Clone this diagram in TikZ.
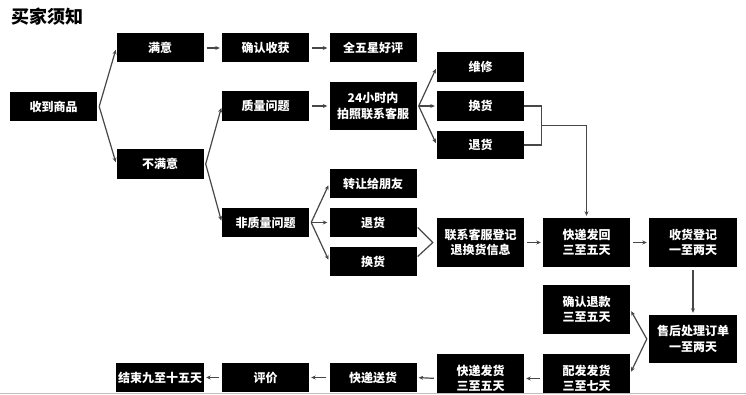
\documentclass[tikz,border=0pt]{standalone}
\usepackage{fontspec}
\newfontfamily\cjk{Noto Sans CJK SC}
\usetikzlibrary{arrows.meta,calc}
\tikzset{
  bx/.style={fill=black, text=white, inner sep=0pt, minimum width=87pt, minimum height=29pt,
    align=center, font=\cjk\bfseries\fontsize{12}{15.5}\selectfont},
  bxt/.style={bx, minimum height=49pt},
  con/.style={draw=black!72, line width=1.2pt},
  arr/.style={con, -{Stealth[length=4.5pt,width=4pt]}},
}
\begin{document}
\begin{tikzpicture}[x=1pt,y=-1pt]
\useasboundingbox (0,0) rectangle (746,395);
\fill[white] (0,0) rectangle (746,395);
\node[anchor=west, font=\cjk\bfseries\fontsize{18}{20}\selectfont] (title) at (8,17) {买家须知};
\begin{scope}
\clip (0,0) rectangle (746,392);
% nodes
\node[bx] (buy) at (53.5,106.5) {收到商品};
\node[bx] (sat) at (160,48) {满意};
\node[bx] (confirm) at (265.5,48) {确认收获};
\node[bx] (five) at (373,48) {全五星好评};
\node[bx, minimum height=30pt] (unsat) at (160,164) {不满意};
\node[bx, minimum height=30pt] (quality) at (265.5,106) {质量问题};
\node[bxt, minimum height=48pt] (h24) at (373,106) {24小时内\\拍照联系客服};
\node[bx, minimum height=30pt] (repair) at (480.5,67) {维修};
\node[bx, minimum height=30pt] (exq) at (480.5,106) {换货};
\node[bx, minimum height=28pt] (retq) at (480.5,145) {退货};
\node[bx] (nonq) at (265.5,222.5) {非质量问题};
\node[bx] (transfer) at (373,183.5) {转让给朋友};
\node[bx] (retn) at (373,222.5) {退货};
\node[bx] (exn) at (373,261.5) {换货};
\node[bxt] (contact) at (480.5,242.5) {联系客服登记\\退换货信息};
\node[bxt] (express) at (586.5,242.5) {快递发回\\三至五天};
\node[bxt, minimum width=88pt] (recv) at (693,242.5) {收货登记\\一至两天};
\node[bxt] (refund) at (586.5,309.5) {确认退款\\三至五天};
\node[bxt, minimum width=88pt, minimum height=48pt] (after) at (693,339) {售后处理订单\\一至两天};
\node[bxt] (dispatch) at (586.5,378.5) {配发发货\\三至七天};
\node[bxt] (ship) at (480.5,378.5) {快递发货\\三至五天};
\node[bx] (deliver) at (373,377.5) {快递送货};
\node[bx] (evalu) at (265.5,377.5) {评价};
\node[bx, minimum width=88pt] (finish) at (160,377.5) {结束九至十五天};
% connectors
\coordinate (f1) at ($(buy.east)+(2,0)$);
\draw[arr, shorten >=2pt] (f1) -- (sat.west);
\draw[arr, shorten >=2pt] (f1) -- (unsat.west);
\draw[arr, shorten <=3pt, shorten >=2pt] (sat.east) -- (confirm.west);
\draw[arr, shorten <=3pt, shorten >=2pt] (confirm.east) -- (five.west);
\coordinate (f2) at ($(unsat.east)+(2,0)$);
\draw[arr, shorten >=2pt] (f2) -- (quality.west);
\draw[arr, shorten >=2pt] (f2) -- (nonq.west);
\draw[arr, shorten <=3pt, shorten >=2pt] (quality.east) -- (h24.west);
\coordinate (f3) at ($(h24.east)+(2,0)$);
\draw[arr, shorten >=2pt] (f3) -- (repair.west);
\draw[arr, shorten >=2pt] (f3) -- (exq.west);
\draw[arr, shorten >=2pt] (f3) -- (retq.west);
\coordinate (f4) at ($(nonq.east)+(2,0)$);
\draw[arr, shorten >=2pt] (f4) -- (transfer.west);
\draw[arr, shorten >=2pt] (f4) -- (retn.west);
\draw[arr, shorten >=2pt] (f4) -- (exn.west);
% bracket
\draw[con] (exq.east) -- ++(17,0) |- (retq.east);
\coordinate (br) at ($(exq.east)!0.5!(retq.east)+(17,0)$);
\draw[arr, shorten >=2pt] (br) -| (express.north);
% chevron
\draw[con] ($(retn.east)+(1,5)$) -- ($(contact.west)+(-4,0)$) -- ($(exn.east)+(1,-5)$);
\draw[arr, shorten <=3pt, shorten >=2pt] (contact.east) -- (express.west);
\draw[arr, shorten <=3pt, shorten >=2pt] (express.east) -- (recv.west);
\draw[arr, shorten <=3pt, shorten >=2pt] (recv.south) -- (after.north);
\coordinate (f5) at ($(after.west)+(-2,0)$);
\draw[arr, shorten >=2pt] (f5) -- (refund.east);
\draw[arr, shorten >=2pt] (f5) -- ([yshift=5pt]dispatch.east);
\draw[arr, shorten <=3pt, shorten >=2pt] (dispatch.west) -- (ship.west -| ship.east);
\draw[arr, shorten <=3pt, shorten >=2pt] (ship.west) -- (deliver.east);
\draw[arr, shorten <=3pt, shorten >=2pt] (deliver.west) -- (evalu.east);
\draw[arr, shorten <=3pt, shorten >=2pt] (evalu.west) -- (finish.east);
\end{scope}
\draw[black!25, line width=1pt] (0,393) -- (746,393);
\end{tikzpicture}
\end{document}
